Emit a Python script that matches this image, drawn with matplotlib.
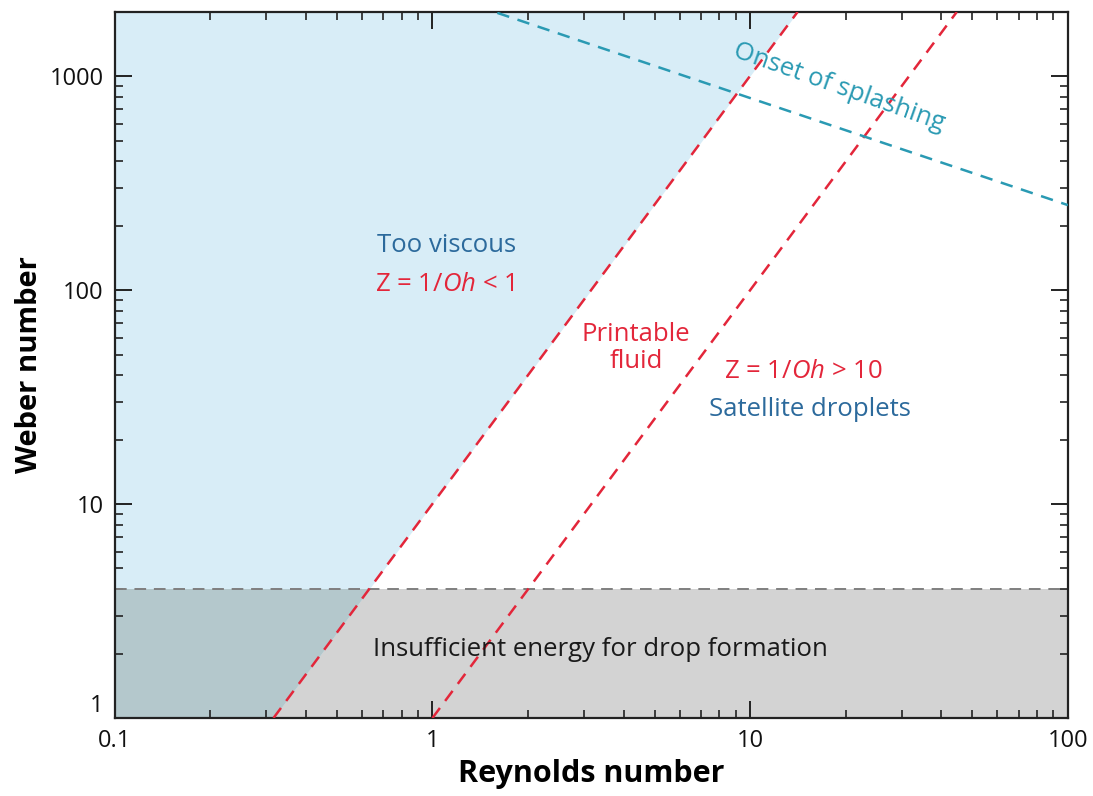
import matplotlib
matplotlib.use('Agg')
import matplotlib.pyplot as plt
from matplotlib.patches import Rectangle
from matplotlib.ticker import FuncFormatter

plt.rcParams['font.family'] = ['Open Sans', 'DejaVu Sans']
plt.rcParams['mathtext.fontset'] = 'custom'
plt.rcParams['mathtext.rm'] = 'Open Sans'
plt.rcParams['mathtext.it'] = 'Open Sans:italic'

# axis ranges
re_lim = [0.1, 100]
we_lim = [1, 2000]

# Z = 1/Oh < 1 boundary (too viscous)
viscous_re = [0.316, 14.1]
viscous_we = [1, 2000]

# Z = 1/Oh > 10 boundary (satellite droplets)
satellite_re = [1.0, 44.7]
satellite_we = [1, 2000]

# onset of splashing
splash_re = [1.6, 100]
splash_we = [1980, 250]

# minimum Weber number for drop formation
energy_we = 4

x_ticks = [0.1, 1, 10, 100]
y_ticks = [1, 10, 100, 1000]

red = '#e3263a'
teal = '#2a9ab3'
blue_txt = '#2c6a9c'
light_blue = '#d8edf7'
grey = '#d3d3d3'
overlap = '#b4c8cc'
fs = 18.5

fig = plt.figure(figsize=(10.93, 7.96), dpi=100)
ax = fig.add_axes([0.105, 0.098, 0.872, 0.887])
ax.set_xscale('log')
ax.set_yscale('log')
ax.set_xlim(re_lim)
ax.set_ylim(we_lim)

# shaded regions
ax.axhspan(we_lim[0], energy_we, color=grey, lw=0, zorder=0)
ax.fill_betweenx(viscous_we, re_lim[0], viscous_re, color=light_blue, lw=0, zorder=0.5)
ov = ax.fill_betweenx(viscous_we, re_lim[0], viscous_re, color=overlap, lw=0, zorder=0.6)
clip = Rectangle((re_lim[0], we_lim[0]), re_lim[1] - re_lim[0], energy_we - we_lim[0],
                 transform=ax.transData)
ov.set_clip_path(clip)

# boundary lines
ax.axhline(energy_we, color='#7f7f7f', lw=1.4, ls=(0, (6, 4)), zorder=2)
ax.plot(viscous_re, viscous_we, color=red, lw=1.8, ls=(0, (5, 3.5)), zorder=3)
ax.plot(satellite_re, satellite_we, color=red, lw=1.8, ls=(0, (5, 3.5)), zorder=3)
ax.plot(splash_re, splash_we, color=teal, lw=1.8, ls=(0, (5, 3.5)), zorder=3)

# annotations
ax.text(1.11, 161, 'Too viscous', color=blue_txt, fontsize=fs, ha='center', va='center')
ax.text(1.09, 106, r'Z = 1/$\mathit{Oh}$ < 1', color=red, fontsize=fs, ha='center', va='center')
ax.text(4.37, 53.7, 'Printable\nfluid', color=red, fontsize=fs, ha='center', va='center',
        linespacing=1.1)
ax.text(14.7, 41.9, r'Z = 1/$\mathit{Oh}$ > 10', color=red, fontsize=fs, ha='center', va='center')
ax.text(15.4, 27.6, 'Satellite droplets', color=blue_txt, fontsize=fs, ha='center', va='center')
ax.text(3.39, 2.09, 'Insufficient energy for drop formation', color='#1a1a1a', fontsize=fs,
        ha='center', va='center')
ax.text(19.0, 890, 'Onset of splashing', color=teal, fontsize=fs, ha='center', va='center',
        rotation=-19.5, rotation_mode='anchor')

# ticks and labels
ax.set_xticks(x_ticks)
ax.set_yticks(y_ticks)
fmt = FuncFormatter(lambda v, p: '%g' % v)
ax.xaxis.set_major_formatter(fmt)
ax.yaxis.set_major_formatter(fmt)
ax.tick_params(which='both', direction='in', top=True, right=True, colors='#222222',
               labelsize=17, labelcolor='#111111')
ax.tick_params(which='major', length=12, width=1.4, pad=8)
ax.tick_params(which='minor', length=6, width=1.2)
for s in ax.spines.values():
    s.set_linewidth(1.6)
    s.set_color('#222222')

ax.set_xlabel('Reynolds number', fontsize=22, fontweight='bold', labelpad=4)
ax.set_ylabel('Weber number', fontsize=21, fontweight='bold', labelpad=4)

fig.canvas.draw()
ax.yaxis.get_major_ticks()[0].label1.set_verticalalignment('bottom')

plt.savefig('out.png', dpi=100)
